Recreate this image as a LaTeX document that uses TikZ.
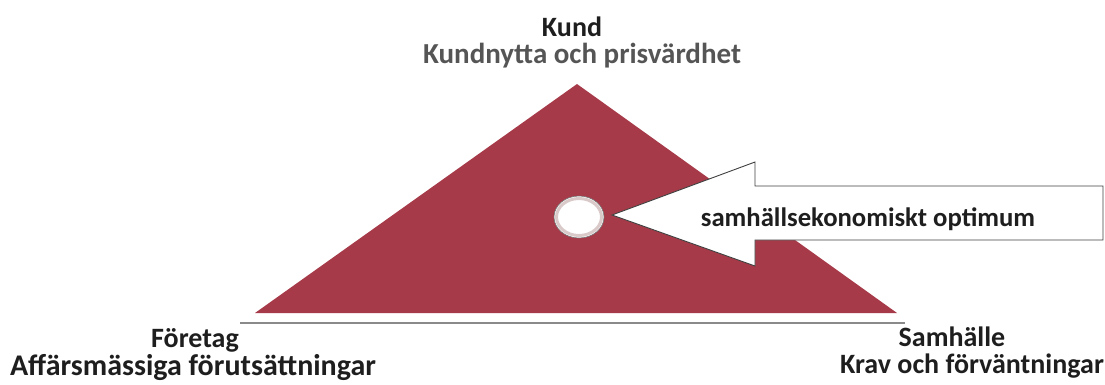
\documentclass[tikz,border=0pt]{standalone}
\usepackage{fontspec}
\setmainfont{Carlito}
\usetikzlibrary{shapes.geometric}
\definecolor{tri}{HTML}{A63A48}
\definecolor{txt}{HTML}{1E1E1E}
\definecolor{subtxt}{HTML}{555555}
\definecolor{baseln}{HTML}{8A8A8A}
\definecolor{ring}{HTML}{D9C9C9}
\tikzset{
  head/.style={font=\fontsize{28}{32}\selectfont\bfseries, text=txt, inner sep=0pt, anchor=base},
  arrowbox/.style={fill=white, draw=black!75, line width=0.9pt, line join=miter},
}
\begin{document}
\begin{tikzpicture}[x=1pt,y=-1pt]
\useasboundingbox (0,0) rectangle (1105,384);
\coordinate (apex) at (577,84);
\coordinate (bl) at (255,313);
\coordinate (br) at (897,313);
\coordinate (ll) at (240,323);
\coordinate (lr) at (905,323);
% triangle
\fill[tri] (apex) -- (br) -- (bl) -- cycle;
% base line
\draw[baseln, line width=2.5pt] (ll) -- (lr);
% arrow
\draw[arrowbox] (612,215) -- (755,162) -- (755,186) -- (1103,186) -- (1103,240) -- (755,240) -- (755,266) -- cycle;
\node[head, font=\fontsize{26.7}{30}\selectfont\bfseries] (opt) at (868,226) {samhällsekonomiskt optimum};
% optimum point
\node[draw=black!55, line width=0.6pt, fill=white, ellipse, minimum width=50pt, minimum height=42pt, inner sep=0pt] (pt) at (579,217) {};
\draw[ring, line width=3pt] (pt.center) ellipse (22.5pt and 18.5pt);
% labels
\node[head] (kund) at (572,36) {Kund};
\node[head, font=\fontsize{29}{32}\selectfont\bfseries, text=subtxt] (kundsub) at (582,63) {Kundnytta och prisvärdhet};
\node[head] (foretag) at (195,347) {Företag};
\node[head, font=\fontsize{30}{34}\selectfont\bfseries] (foretagsub) at (193,375) {Affärsmässiga förutsättningar};
\node[head] (samh) at (952,346) {Samhälle};
\node[head] (samhsub) at (972,373) {Krav och förväntningar};
\end{tikzpicture}
\end{document}
